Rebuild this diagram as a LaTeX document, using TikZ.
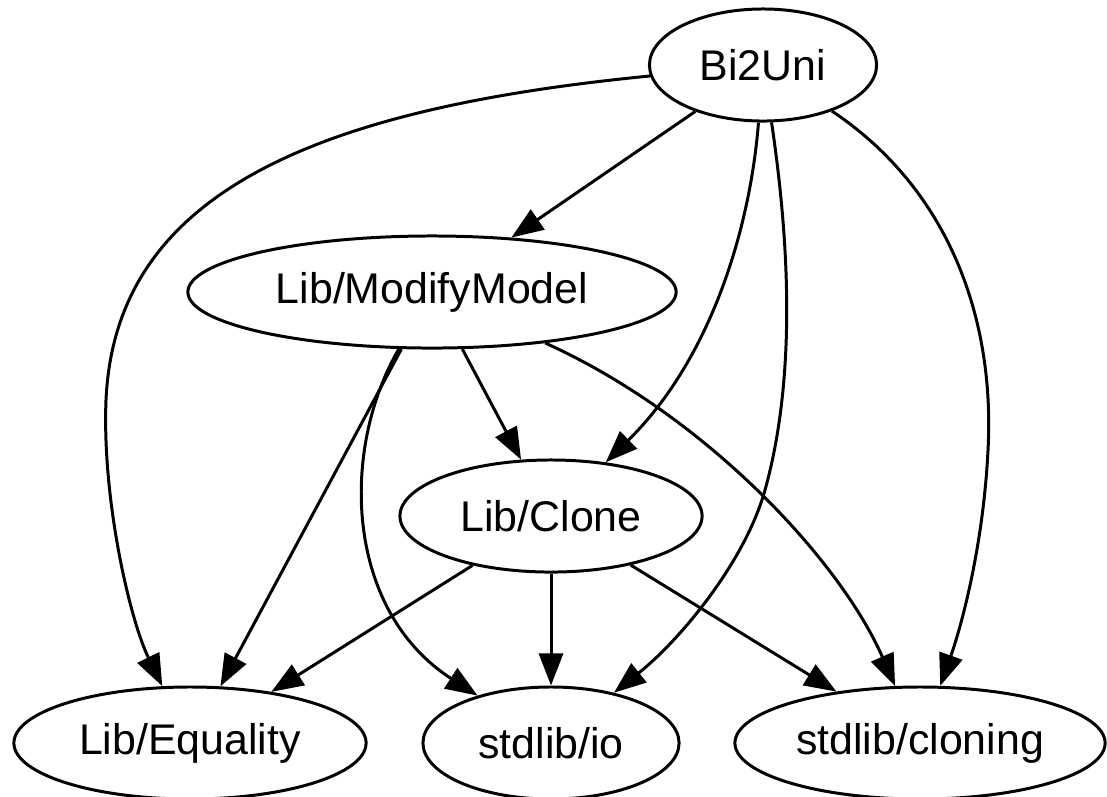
\documentclass[tikz,border=0pt]{standalone}
\usepackage{fontspec}
\setmainfont{Liberation Sans}
\usetikzlibrary{shapes.geometric, arrows.meta}

\begin{document}
\begin{tikzpicture}[x=0.01cm, y=-0.01cm,
  mod/.style={draw, ellipse, line width=0.85pt, inner sep=0pt, minimum height=1.12cm,
    font=\fontsize{12.2}{14}\selectfont},
  dep/.style={-{Triangle[length=0.32cm, width=0.24cm]}, line width=0.85pt}]
\useasboundingbox (0,0) rectangle (1107,796);

% modules
\node[mod, minimum width=2.27cm] (bi) at (763,65) {Bi2Uni};
\node[mod, minimum width=4.88cm] (mm) at (432,292) {Lib/ModifyModel};
\node[mod, minimum width=3.02cm] (cl) at (551,516) {Lib/Clone};
\node[mod, minimum width=3.52cm] (eq) at (190,743) {Lib/Equality};
\node[mod, minimum width=2.56cm] (io) at (551,743) {stdlib/io};
\node[mod, minimum width=3.70cm] (clo) at (920,743) {stdlib/cloning};

% imports of Bi2Uni
\draw[dep] (bi) -- (mm);
\draw[dep] (bi) .. controls (300,110) and (115,200) .. (106,400)
  .. controls (102,500) and (130,620) .. (eq);
\draw[dep] (bi) .. controls (750,230) and (710,360) .. (cl);
\draw[dep] (bi) .. controls (795,280) and (790,400) .. (765,490)
  .. controls (745,562) and (680,640) .. (io);
\draw[dep] (bi) .. controls (950,190) and (995,320) .. (988,450)
  .. controls (983,550) and (960,630) .. (clo);

% imports of Lib/ModifyModel
\draw[dep] (mm) -- (cl);
\draw[dep] (mm) -- (eq);
\draw[dep] (mm) .. controls (340,450) and (345,610) .. (io);
\draw[dep] (mm) .. controls (705,415) and (840,560) .. (clo);

% imports of Lib/Clone
\draw[dep] (cl) -- (eq);
\draw[dep] (cl) -- (io);
\draw[dep] (cl) -- (clo);

\end{tikzpicture}
\end{document}
